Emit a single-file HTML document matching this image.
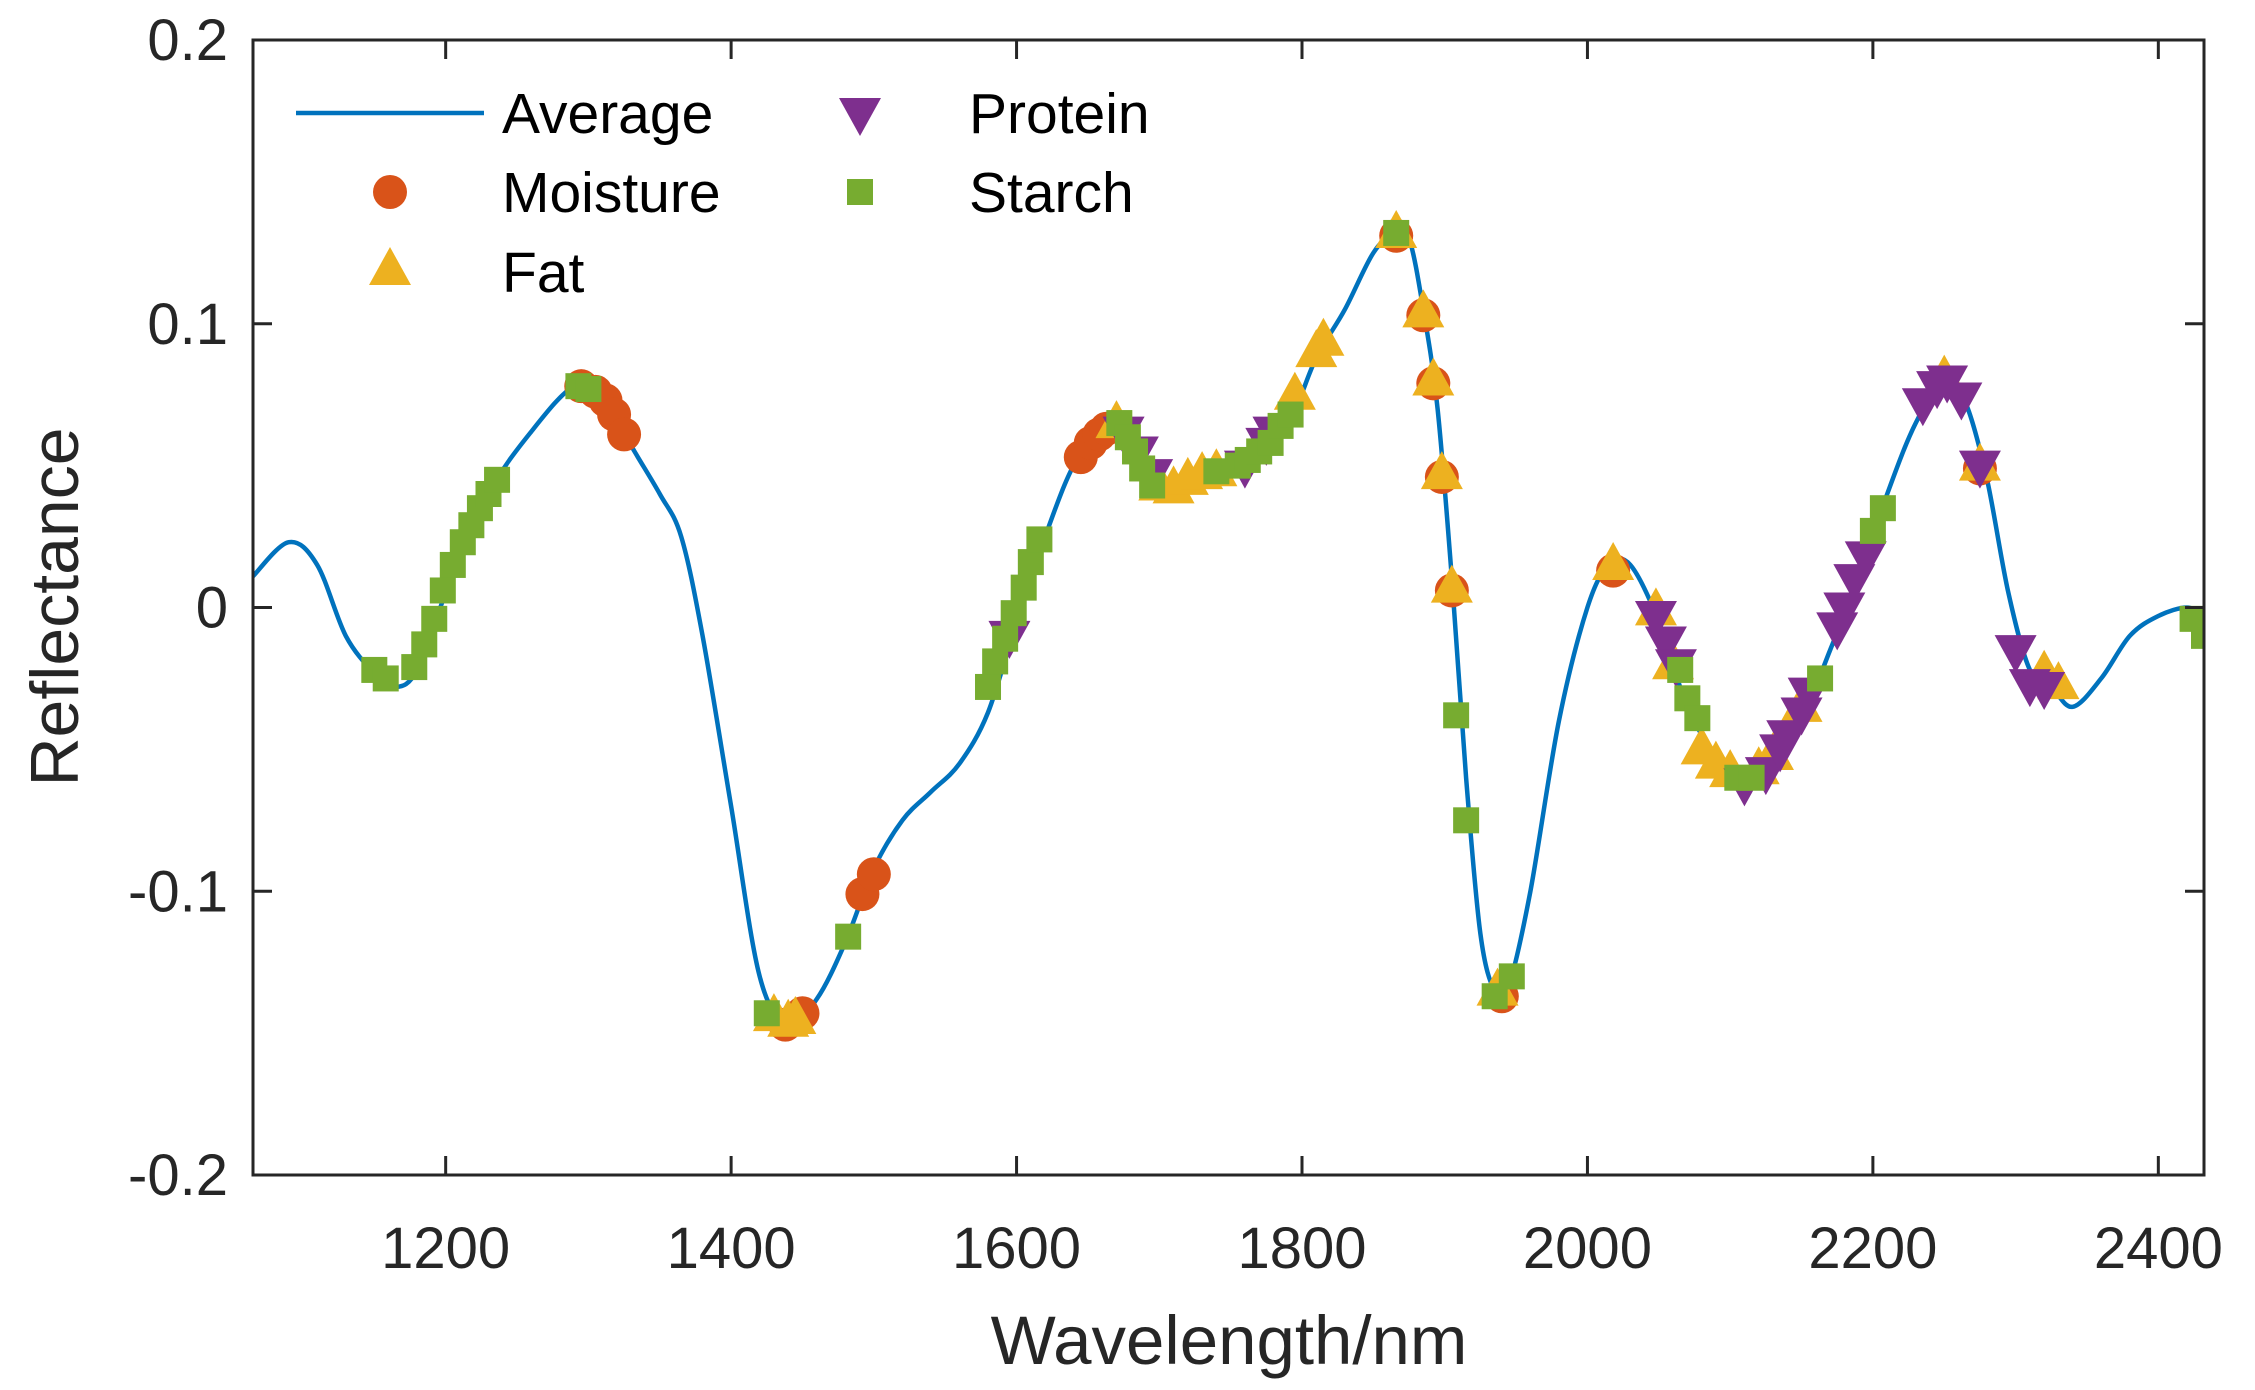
<!DOCTYPE html>
<html><head><meta charset="utf-8">
<style>
html,body{margin:0;padding:0;background:#fff;}
svg{display:block;font-family:"Liberation Sans",Arial,sans-serif;}
</style></head>
<body>
<svg id="chart" width="2255" height="1390" viewBox="0 0 2255 1390" xmlns="http://www.w3.org/2000/svg">
<rect width="2255" height="1390" fill="#fff"/>
<g id="plot"></g>
<g id="axes"></g>
<g id="legend"></g>
<text x="0" y="0" transform="translate(78,607) rotate(-90)" text-anchor="middle" font-size="68" fill="#262626">Reflectance</text>
<text x="1229" y="1364" text-anchor="middle" font-size="69" fill="#262626">Wavelength/nm</text>
</svg>
<script>
const avgX = [1065,1090,1110,1130,1150,1165,1180,1200,1230,1260,1290,1310,1330,1350,1365,1380,1400,1420,1440,1460,1480,1500,1520,1540,1560,1580,1600,1620,1640,1660,1670,1690,1705,1730,1760,1790,1810,1830,1850,1865,1875,1885,1895,1905,1915,1925,1935,1945,1960,1980,2000,2015,2030,2050,2070,2090,2110,2130,2150,2170,2190,2210,2230,2250,2265,2280,2295,2310,2325,2340,2360,2380,2400,2420,2432];
const avgY = [0.011,0.023,0.015,-0.01,-0.023,-0.028,-0.022,0.005,0.04,0.062,0.078,0.075,0.057,0.04,0.025,-0.01,-0.07,-0.13,-0.147,-0.138,-0.118,-0.092,-0.075,-0.065,-0.055,-0.037,-0.005,0.025,0.05,0.062,0.064,0.05,0.042,0.045,0.05,0.065,0.088,0.105,0.125,0.132,0.13,0.105,0.07,0.01,-0.06,-0.115,-0.135,-0.133,-0.1,-0.04,0.0,0.015,0.015,-0.005,-0.035,-0.052,-0.06,-0.055,-0.04,-0.015,0.01,0.04,0.065,0.08,0.072,0.045,0.005,-0.022,-0.028,-0.035,-0.025,-0.01,-0.003,0.0,-0.003];
const moistX = [1295,1305,1312,1318,1325,1438,1450,1492,1500,1645,1652,1658,1663,1866,1885,1892,1898,1905,1940,2018,2275];
const moistY = [0.078,0.076,0.073,0.068,0.061,-0.147,-0.143,-0.101,-0.094,0.053,0.058,0.061,0.063,0.131,0.103,0.079,0.046,0.006,-0.137,0.013,0.049];
const fatX = [1430,1440,1445,1670,1700,1710,1720,1730,1740,1795,1810,1815,1866,1885,1892,1898,1905,1937,2018,2048,2060,2080,2090,2100,2120,2130,2150,2250,2275,2320,2330];
const fatY = [-0.144,-0.146,-0.145,0.065,0.043,0.042,0.045,0.047,0.048,0.075,0.09,0.094,0.132,0.104,0.08,0.047,0.007,-0.135,0.015,-0.001,-0.02,-0.05,-0.055,-0.058,-0.057,-0.052,-0.035,0.081,0.05,-0.023,-0.027];
const protX = [1595,1675,1685,1695,1760,1775,1780,2048,2055,2062,2110,2125,2135,2140,2150,2155,2175,2180,2187,2195,2235,2245,2252,2262,2275,2300,2310,2320];
const protY = [-0.01,0.062,0.055,0.047,0.05,0.058,0.062,-0.003,-0.012,-0.02,-0.062,-0.058,-0.05,-0.045,-0.037,-0.03,-0.007,0.0,0.01,0.018,0.072,0.078,0.08,0.074,0.05,-0.015,-0.027,-0.028];
const starchX = [1150,1158,1178,1185,1192,1198,1205,1212,1218,1224,1230,1236,1293,1300,1425,1482,1580,1585,1592,1598,1605,1610,1616,1672,1678,1683,1688,1695,1740,1755,1762,1770,1778,1785,1792,1866,1908,1915,1935,1947,2065,2070,2077,2105,2115,2163,2200,2207,2424,2432];
const starchY = [-0.022,-0.025,-0.021,-0.013,-0.004,0.006,0.015,0.023,0.029,0.035,0.04,0.045,0.078,0.077,-0.143,-0.116,-0.028,-0.019,-0.011,-0.002,0.007,0.016,0.024,0.065,0.06,0.055,0.049,0.043,0.048,0.05,0.052,0.055,0.058,0.064,0.068,0.132,-0.038,-0.075,-0.137,-0.13,-0.022,-0.032,-0.039,-0.06,-0.06,-0.025,0.027,0.035,-0.004,-0.01];
const xTicks = [1200,1400,1600,1800,2000,2200,2400];
const yTicks = [-0.2,-0.1,0,0.1,0.2];
const yTickLabels = ["-0.2","-0.1","0","0.1","0.2"];

const L=253,R=2204,T=40,B=1175,XMIN=1065,XMAX=2432,YMIN=-0.2,YMAX=0.2;
function sx(v){return L+(v-XMIN)/(XMAX-XMIN)*(R-L);}
function sy(v){return B-(v-YMIN)/(YMAX-YMIN)*(B-T);}
const NS="http://www.w3.org/2000/svg";
function mk(tag,attrs,parent){const e=document.createElementNS(NS,tag);for(const k in attrs)e.setAttribute(k,attrs[k]);parent.appendChild(e);return e;}
const plot=document.getElementById('plot'), axes=document.getElementById('axes'), leg=document.getElementById('legend');

const defs=mk('defs',{},plot);const cp=mk('clipPath',{id:'clip'},defs);mk('rect',{x:L,y:T,width:R-L,height:B-T},cp);
const g=mk('g',{'clip-path':'url(#clip)'},plot);

// smooth Catmull-Rom path
const P=avgX.map((x,i)=>[sx(x),sy(avgY[i])]);
let d='M'+P[0][0].toFixed(1)+','+P[0][1].toFixed(1);
for(let i=0;i<P.length-1;i++){
  const p0=P[Math.max(0,i-1)],p1=P[i],p2=P[i+1],p3=P[Math.min(P.length-1,i+2)];
  const c1=[p1[0]+(p2[0]-p0[0])/6,p1[1]+(p2[1]-p0[1])/6];
  const c2=[p2[0]-(p3[0]-p1[0])/6,p2[1]-(p3[1]-p1[1])/6];
  d+='C'+c1[0].toFixed(1)+','+c1[1].toFixed(1)+' '+c2[0].toFixed(1)+','+c2[1].toFixed(1)+' '+p2[0].toFixed(1)+','+p2[1].toFixed(1);
}
const line=mk('path',{d:d,fill:'none',stroke:'#0072BD','stroke-width':4.5,'stroke-linejoin':'round'},g);



function circle(cx,cy,p){return mk('circle',{cx:cx,cy:cy,r:17,fill:'#D95319'},p);}
function triUp(cx,cy,p){return mk('polygon',{points:`${cx},${cy-23} ${cx-21},${cy+15} ${cx+21},${cy+15}`,fill:'#EDB120'},p);}
function triDown(cx,cy,p){return mk('polygon',{points:`${cx},${cy+23} ${cx-21},${cy-15} ${cx+21},${cy-15}`,fill:'#7E2F8E'},p);}
function square(cx,cy,p){return mk('rect',{x:cx-13,y:cy-13,width:26,height:26,fill:'#77AC30'},p);}

moistX.forEach((x,i)=>{const e=circle(sx(x),sy(moistY[i]),g);

});
fatX.forEach((x,i)=>{const e=triUp(sx(x),sy(fatY[i]),g);

});
protX.forEach((x,i)=>{const e=triDown(sx(x),sy(protY[i]),g);

});
starchX.forEach((x,i)=>{const e=square(sx(x),sy(starchY[i]),g);

});

const fr=mk('rect',{x:L,y:T,width:R-L,height:B-T,fill:'none',stroke:'#262626','stroke-width':3},axes);


xTicks.forEach(v=>{const x=sx(v);
mk('line',{x1:x,y1:B,x2:x,y2:B-19,stroke:'#262626','stroke-width':3},axes);
mk('line',{x1:x,y1:T,x2:x,y2:T+19,stroke:'#262626','stroke-width':3},axes);
const t=mk('text',{x:x,y:1268,'text-anchor':'middle','font-size':58,fill:'#262626'},axes);t.textContent=v;

});
yTicks.forEach((v,i)=>{const y=sy(v);
mk('line',{x1:L,y1:y,x2:L+19,y2:y,stroke:'#262626','stroke-width':3},axes);
mk('line',{x1:R,y1:y,x2:R-19,y2:y,stroke:'#262626','stroke-width':3},axes);
const t=mk('text',{x:228,y:y+20,'text-anchor':'end','font-size':58,fill:'#262626'},axes);t.textContent=yTickLabels[i];

});

const ll=mk('line',{x1:296,y1:113,x2:484,y2:113,stroke:'#0072BD','stroke-width':4.5},leg);


circle(390,192,leg); triUp(390,270,leg); triDown(860,113,leg); square(860,192,leg);
[["Average",502,113],["Moisture",502,192],["Fat",502,272],["Protein",969,113],["Starch",969,192]].forEach(a=>{
const t=mk('text',{x:a[1],y:a[2]+20,'font-size':57,fill:'#000'},leg);t.textContent=a[0];

});
</script>
</body></html>
